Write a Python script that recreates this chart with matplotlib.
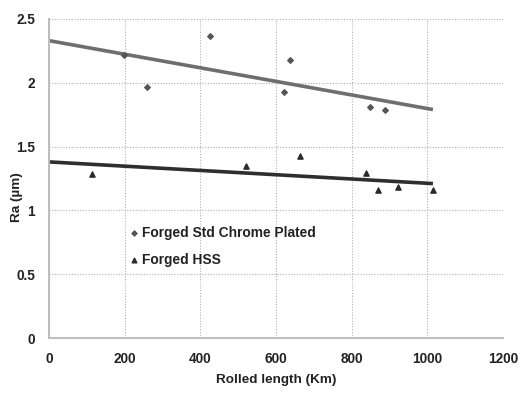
import numpy as np
import matplotlib
matplotlib.use("Agg")
import matplotlib.pyplot as plt

plt.rcParams["font.family"] = ["Liberation Sans", "DejaVu Sans"]
plt.rcParams["font.weight"] = "bold"

chrome_x = [198, 259, 426, 622, 638, 849, 889]
chrome_y = [2.22, 1.97, 2.37, 1.93, 2.18, 1.81, 1.79]
hss_x = [114, 521, 664, 839, 870, 923, 1016]
hss_y = [1.285, 1.35, 1.43, 1.29, 1.16, 1.18, 1.16]

# trend lines (end points)
trend_x = [0, 1015]
chrome_trend = [2.33, 1.79]
hss_trend = [1.38, 1.21]

fig = plt.figure(figsize=(5.25, 3.94), dpi=100)
ax = fig.add_axes([0.093, 0.142, 0.865, 0.81])

ax.plot(trend_x, chrome_trend, color="#6e6e6e", lw=2.6, solid_capstyle="butt")
ax.plot(trend_x, hss_trend, color="#2e2e2e", lw=2.6, solid_capstyle="butt")
ax.scatter(chrome_x, chrome_y, marker="D", s=8, color="#555555", label="Forged Std Chrome Plated", zorder=3)
ax.scatter(hss_x, hss_y, marker="^", s=14, color="#2a2a2a", label="Forged HSS", zorder=3)

ax.set_xlim(0, 1200)
ax.set_ylim(0, 2.5)
ax.set_xticks(np.arange(0, 1201, 200))
ax.set_yticks([0, 0.5, 1, 1.5, 2, 2.5])
ax.set_yticklabels(["0", "0.5", "1", "1.5", "2", "2.5"])
ax.tick_params(labelsize=9.8, length=0, colors="#222222")
ax.tick_params(axis="x", pad=10)
ax.tick_params(axis="y", pad=10)
ax.grid(True, ls=(0, (1, 1.5)), color="#b0b0b0", lw=0.8)
ax.set_axisbelow(True)
for s in ["top", "right"]:
    ax.spines[s].set_visible(False)
for s in ["left", "bottom"]:
    ax.spines[s].set_color("#bdbdbd")
    ax.spines[s].set_linewidth(1.5)

ax.set_xlabel("Rolled length (Km)", fontsize=9.7, fontweight="bold", color="#222222", labelpad=6)
ax.text(-0.07, 0.442, "Ra (\u00b5m)", transform=ax.transAxes, rotation=90,
        ha="center", va="center", fontsize=9.7, fontweight="bold", color="#222222")

leg = ax.legend(loc="upper left", bbox_to_anchor=(0.142, 0.39), frameon=False,
                fontsize=9.9, handletextpad=0.0, handlelength=1.2,
                labelspacing=0.95, markerscale=0.9)
for t in leg.get_texts():
    t.set_color("#222222")

fig.savefig("out.png", dpi=100)
